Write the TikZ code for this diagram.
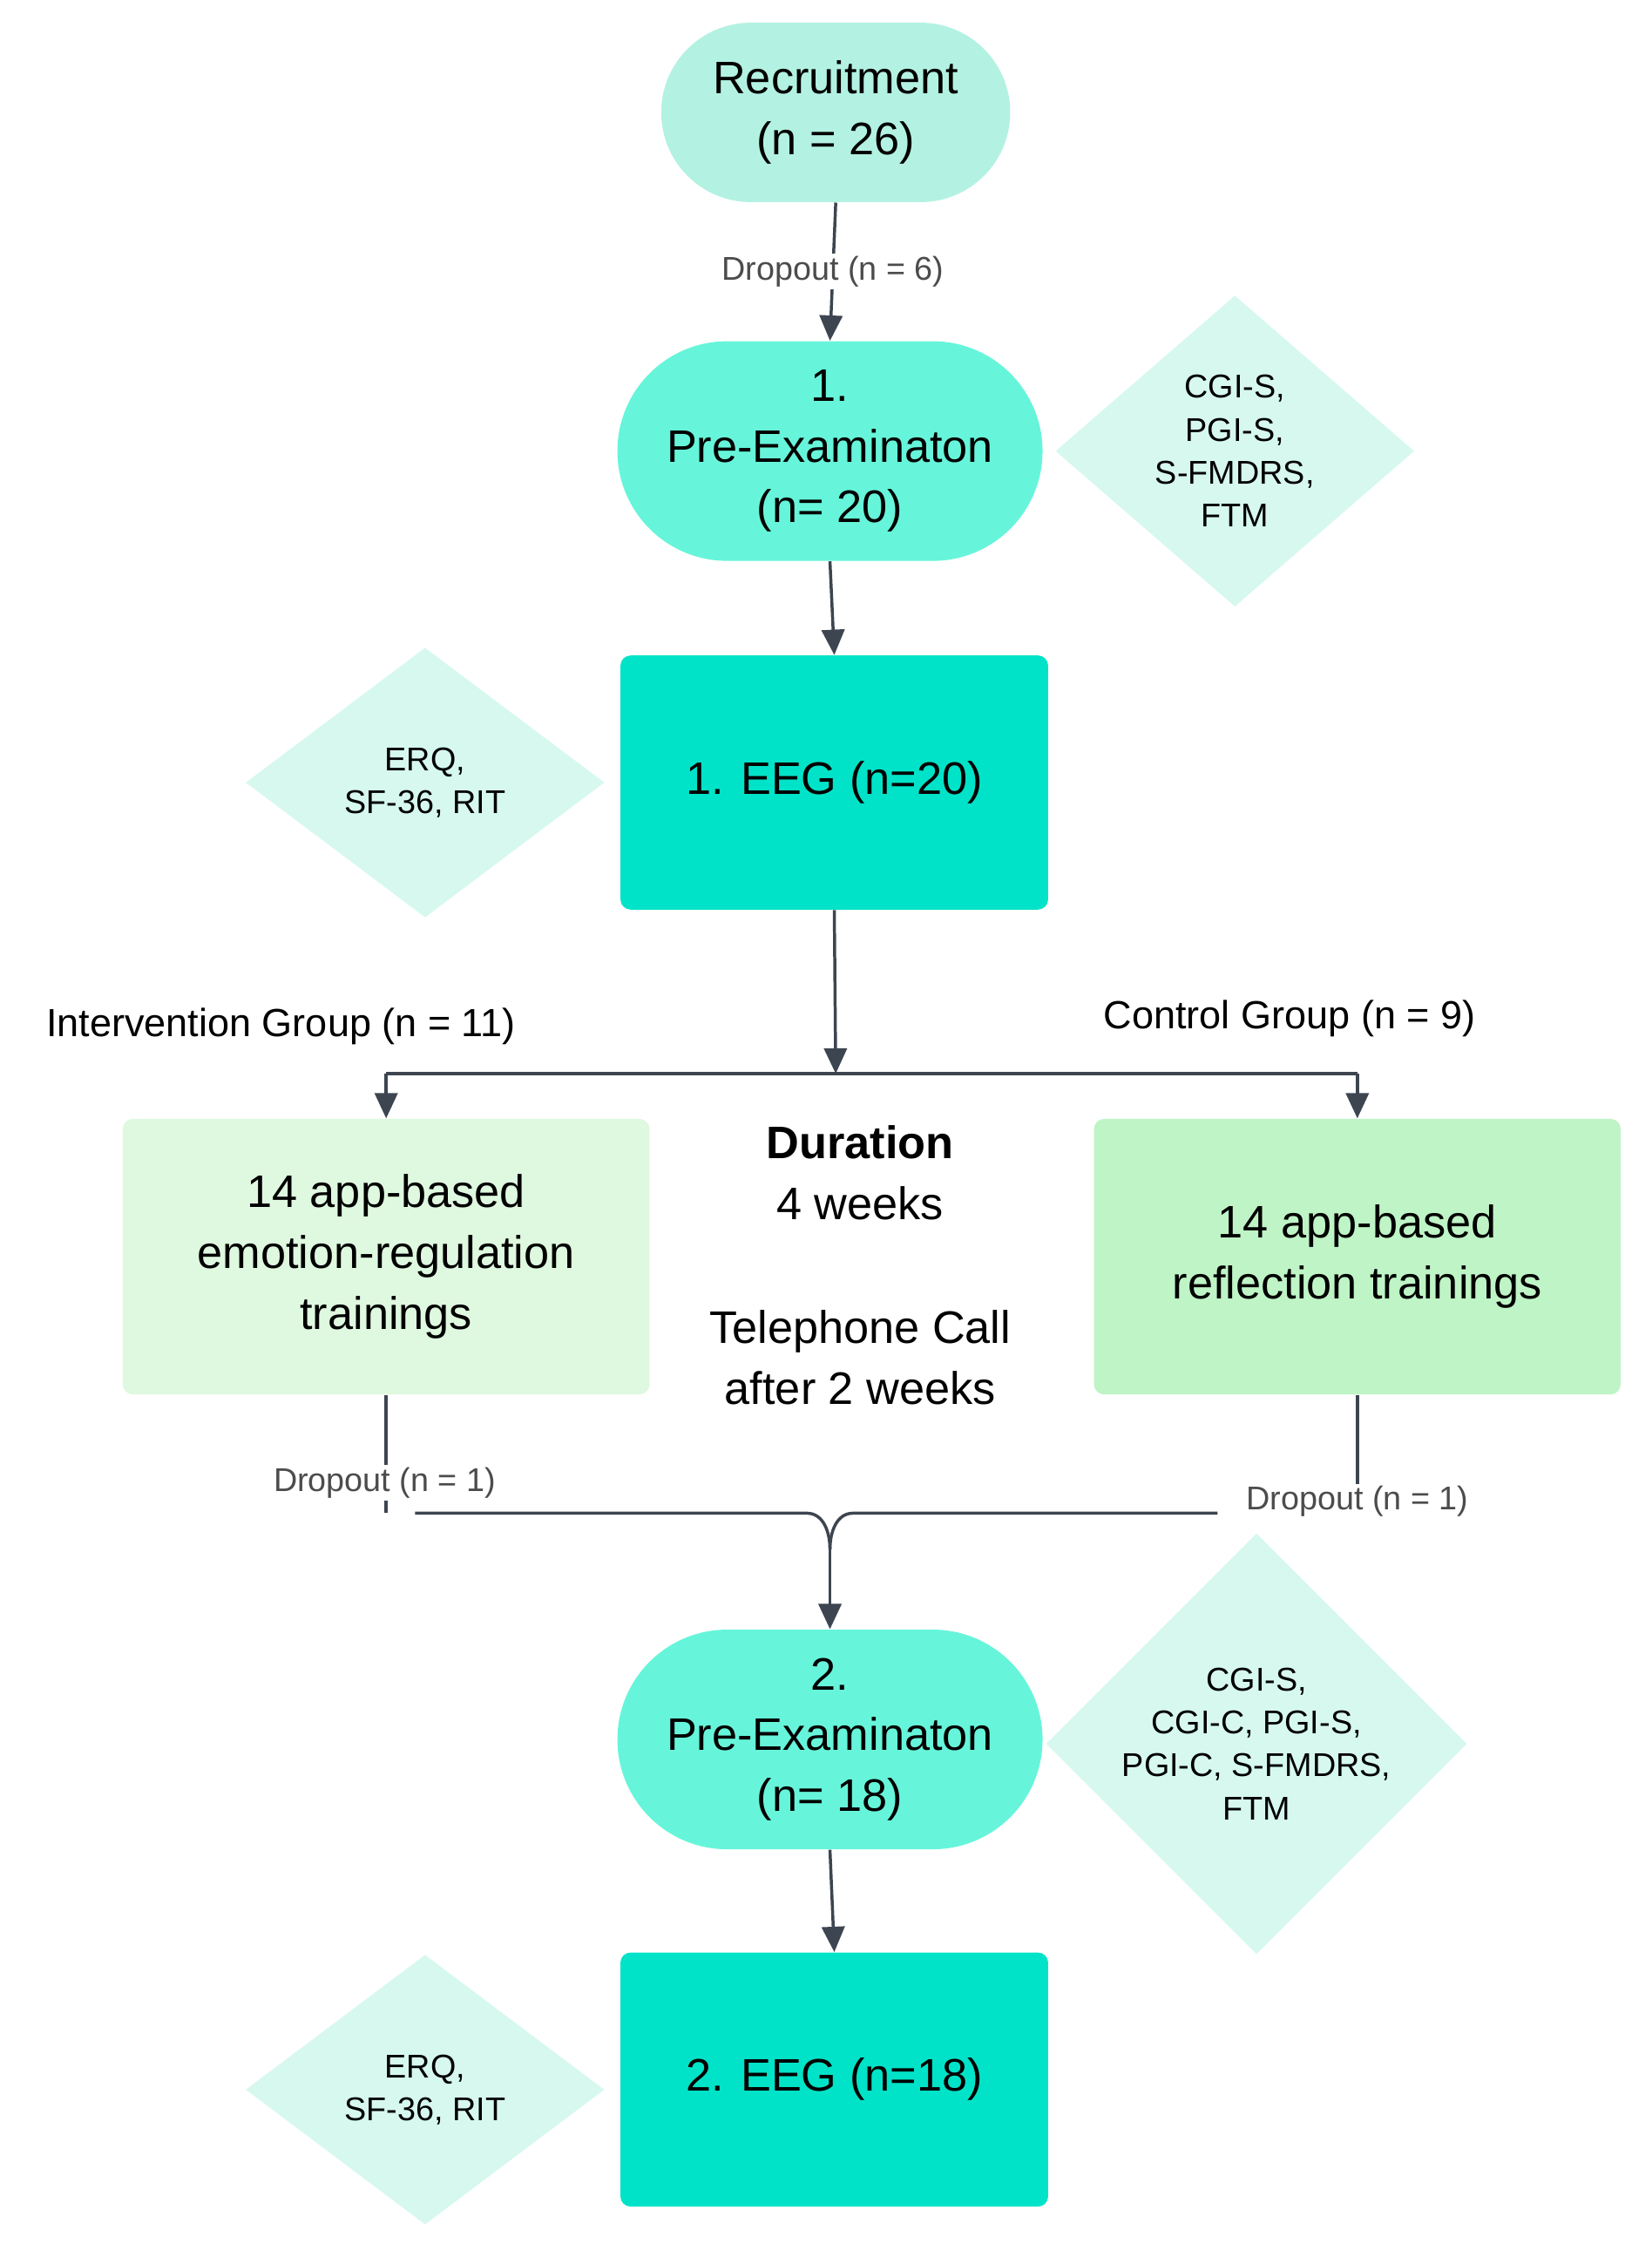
\documentclass[tikz,border=0pt]{standalone}
\usepackage{fontspec}
\setmainfont{Liberation Sans}
\usetikzlibrary{shapes.geometric,shapes.misc,arrows.meta}
\definecolor{recr}{HTML}{B3F2E2}
\definecolor{pre}{HTML}{66F5DA}
\definecolor{eeg}{HTML}{00E3C8}
\definecolor{dia}{HTML}{D6F8EF}
\definecolor{lbox}{HTML}{DFF8E0}
\definecolor{rbox}{HTML}{BFF4C6}
\definecolor{ln}{HTML}{3D4550}
\newcommand\pxu{0.5669pt}
\begin{document}
\begin{tikzpicture}[x=0.02cm,y=-0.02cm,
 stad/.style={rounded rectangle,draw=none,align=center,font=\fontsize{18}{24}\selectfont},
 box/.style={rectangle,rounded corners=4pt,draw=none,align=center,font=\fontsize{18}{24}\selectfont},
 dia/.style={diamond,fill=dia,draw=none,align=center,font=\fontsize{13}{17}\selectfont,inner sep=0pt},
 arr/.style={draw=ln,line width=1.2pt,-{Triangle[length=10pt,width=9pt]}},
 lin/.style={draw=ln,line width=1.2pt},
 dl/.style={fill=white,text=black!70,font=\fontsize{13}{15}\selectfont,inner sep=1pt},
 gl/.style={font=\fontsize{15.5}{18}\selectfont}]
\useasboundingbox (0,0) rectangle (1146,1571);
\node[stad,fill=recr,minimum width=255*\pxu,minimum height=125*\pxu] (rec) at (580,78) {Recruitment\\(n = 26)};
\node[stad,fill=pre,minimum width=308*\pxu,minimum height=153*\pxu] (pre1) at (576,313) {1.\\Pre-Examinaton\\(n= 20)};
\node[dia,minimum width=250*\pxu,minimum height=190*\pxu] (d1) at (857,313) {CGI-S,\\PGI-S,\\S-FMDRS,\\FTM};
\node[box,fill=eeg,minimum width=298*\pxu,minimum height=177*\pxu] (eeg1) at (579,543) {1. EEG (n=20)};
\node[dia,minimum width=250*\pxu,minimum height=188*\pxu] (d2) at (295,543) {ERQ,\\SF-36, RIT};
\draw[arr] (rec.south) -- node[dl]{Dropout (n = 6)} (pre1.north);
\draw[arr] (pre1.south) -- (eeg1.north);
\coordinate (split) at (580,745);
\coordinate (sl) at (268,745);
\coordinate (sr) at (942,745);
\draw[arr] (eeg1.south) -- (split);
\draw[lin] (sl) -- (sr);
\node[gl] (ig) at (195,712) {Intervention Group (n = 11)};
\node[gl] (cg) at (895,707) {Control Group (n = 9)};
\node[box,fill=lbox,minimum width=367*\pxu,minimum height=192*\pxu] (lb) at (268,872) {14 app-based\\emotion-regulation\\trainings};
\node[box,fill=rbox,minimum width=367*\pxu,minimum height=192*\pxu] (rb) at (942,872) {14 app-based\\reflection trainings};
\draw[arr] (sl) -- (lb.north);
\draw[arr] (sr) -- (rb.north);
\node[font=\fontsize{18}{24}\selectfont,align=center] (dur) at (597,814) {\textbf{Duration}\\4 weeks};
\node[font=\fontsize{18}{24}\selectfont,align=center] (tel) at (597,942) {Telephone Call\\after 2 weeks};
\coordinate (ml) at (288,1050);
\coordinate (mr) at (845,1050);
\coordinate (mj) at (576,1075);
\draw[lin] (lb.south) -- (268,1050);
\draw[lin] (rb.south) -- (942,1030);
\draw[lin] (ml) -- (560,1050) to[out=0,in=90] (mj);
\draw[lin] (mr) -- (592,1050) to[out=180,in=90] (mj);
\node[dl] (dol) at (267,1029) {Dropout (n = 1)};
\node[dl] (dor) at (942,1042) {Dropout (n = 1)};
\node[stad,fill=pre,minimum width=308*\pxu,minimum height=153*\pxu] (pre2) at (576,1207) {2.\\Pre-Examinaton\\(n= 18)};
\draw[arr] (mj) -- (pre2.north);
\node[dia,minimum width=280*\pxu,minimum height=220*\pxu] (d3) at (872,1210) {CGI-S,\\CGI-C, PGI-S,\\PGI-C, S-FMDRS,\\FTM};
\node[box,fill=eeg,minimum width=298*\pxu,minimum height=177*\pxu] (eeg2) at (579,1443) {2. EEG (n=18)};
\node[dia,minimum width=250*\pxu,minimum height=188*\pxu] (d4) at (295,1450) {ERQ,\\SF-36, RIT};
\draw[arr] (pre2.south) -- (eeg2.north);
\end{tikzpicture}
\end{document}
